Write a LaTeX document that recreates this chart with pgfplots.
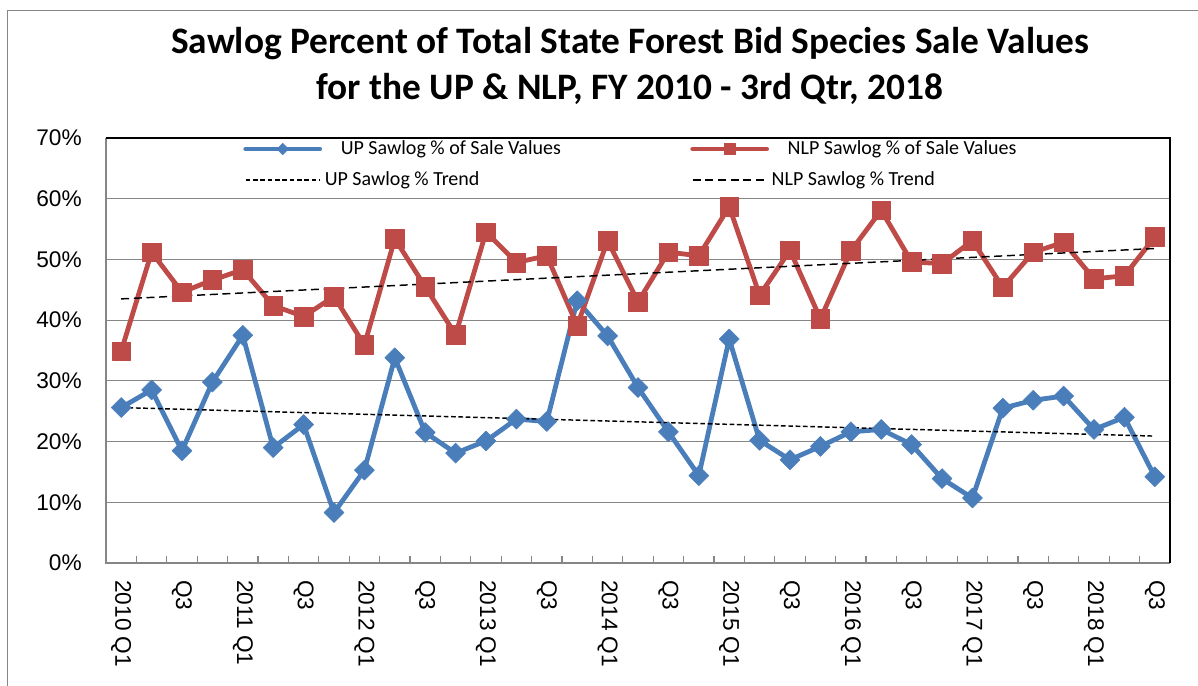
\documentclass[border=0pt]{standalone}
\usepackage{fontspec}
\setmainfont{Carlito}
\newfontfamily\arial{Liberation Sans}
\usepackage{pgfplots}
\pgfplotsset{compat=1.18}
\definecolor{upblue}{HTML}{4A7EBB}
\definecolor{nlpred}{HTML}{BE4B48}
\definecolor{gridgray}{HTML}{868686}
\begin{document}
\begin{tikzpicture}
\path[use as bounding box] (0,0) rectangle (898.5pt,513.75pt);
\draw[gridgray, line width=0.8pt] (5.5pt,-2pt) -- (5.5pt,506pt) -- (900pt,506pt);
\node[font=\bfseries\fontsize{28}{32}\selectfont, anchor=base] at (472.5pt,473.25pt) {Sawlog Percent of Total State Forest Bid Species Sale Values};
\node[font=\bfseries\fontsize{28}{32}\selectfont, anchor=base] at (472.5pt,438.75pt) {for the UP \& NLP, FY 2010 - 3rd Qtr, 2018};
\begin{axis}[
  at={(79.5pt,91.5pt)}, anchor=south west,
  scale only axis, width=798pt, height=318.75pt,
  xmin=-0.5, xmax=34.5, ymin=0, ymax=70,
  clip=false,
  axis line style={draw=none},
  ytick={0,10,...,70},
  yticklabel={\pgfmathprintnumber{\tick}\%},
  ymajorgrids,
  major grid style={gridgray, line width=0.9pt},
  xtick={0,2,...,34},
  xticklabels={2010 Q1,Q3,2011 Q1,Q3,2012 Q1,Q3,2013 Q1,Q3,2014 Q1,Q3,2015 Q1,Q3,2016 Q1,Q3,2017 Q1,Q3,2018 Q1,Q3},
  minor xtick={0.5,1.5,...,33.5},
  major tick length=0pt,
  minor tick length=5pt,
  tick align=inside,
  xtick pos=bottom, ytick pos=left,
  minor tick style={gridgray, line width=0.9pt},
  tick label style={font=\arial\fontsize{17}{20}\selectfont},
  /pgf/number format/assume math mode=true,
  xticklabel style={rotate=-90, anchor=west, inner sep=0pt},
  xticklabel shift=12.75pt,
  yticklabel style={anchor=east, inner sep=0pt},
  yticklabel shift=18pt,
  legend columns=2,
  legend image code/.code={\draw[#1, mark=none] (0cm,0cm) -- (1.95cm,0cm);
     \path[#1, /tikz/every mark/.append style={scale=0.57}] plot coordinates {(0.975cm,0cm)};},
  legend style={at={(0.1288,0.9376)}, anchor=west, draw=none, fill=none,
    inner sep=0pt, column sep=0pt, row sep=9.75pt,
    font=\fontsize{15}{18}\selectfont,
    cells={anchor=west},
    /tikz/every even column/.append style={column sep=95pt},
    nodes={inner xsep=2pt, inner ysep=0pt, text height=10.5pt, text depth=3pt}},
]
\addplot[upblue, line width=3.6pt, line join=round, line cap=round,
  mark=square*, mark size=5.3pt, mark options={rotate=45, fill=upblue, draw=upblue, line width=0.4pt}]
  coordinates {
  (0,25.6) (1,28.5) (2,18.5) (3,29.8) (4,37.5) (5,19.0) (6,22.8) (7,8.3) (8,15.3) (9,33.8)
  (10,21.5) (11,18.1) (12,20.1) (13,23.7) (14,23.3) (15,43.2) (16,37.4) (17,28.9) (18,21.6) (19,14.4)
  (20,36.9) (21,20.2) (22,17.0) (23,19.2) (24,21.6) (25,22.0) (26,19.5) (27,13.9) (28,10.7) (29,25.5)
  (30,26.8) (31,27.5) (32,22.0) (33,24.0) (34,14.2)};
\addlegendentry{\hspace*{12pt}UP Sawlog \% of Sale Values}
\addplot[nlpred, line width=3.6pt, line join=round, line cap=round,
  mark=square*, mark size=7pt, mark options={fill=nlpred, draw=nlpred, line width=0.4pt}]
  coordinates {
  (0,34.9) (1,51.2) (2,44.6) (3,46.6) (4,48.3) (5,42.4) (6,40.6) (7,43.9) (8,35.9) (9,53.4)
  (10,45.5) (11,37.6) (12,54.5) (13,49.5) (14,50.6) (15,39.1) (16,53.1) (17,43.0) (18,51.2) (19,50.6)
  (20,58.7) (21,44.1) (22,51.5) (23,40.2) (24,51.4) (25,58.1) (26,49.6) (27,49.3) (28,53.1) (29,45.4)
  (30,51.2) (31,52.8) (32,46.8) (33,47.3) (34,53.7)};
\addlegendentry{\hspace*{12pt}NLP Sawlog \% of Sale Values}
\addplot[black, line width=1.1pt, dash pattern=on 3.5pt off 2pt] coordinates {(0,25.6) (34,20.9)};
\addlegendentry{UP Sawlog \% Trend}
\addplot[black, line width=1.1pt, dash pattern=on 6pt off 3.5pt] coordinates {(0,43.5) (34,51.8)};
\addlegendentry{NLP Sawlog \% Trend}
\draw[gridgray, line width=1.2pt] (rel axis cs:0,1) -- (rel axis cs:0,0) -- (rel axis cs:1,0);
\draw[black, line width=1.2pt] (rel axis cs:0,1) -- (rel axis cs:1,1) -- (rel axis cs:1,0);
\end{axis}
\end{tikzpicture}
\end{document}
